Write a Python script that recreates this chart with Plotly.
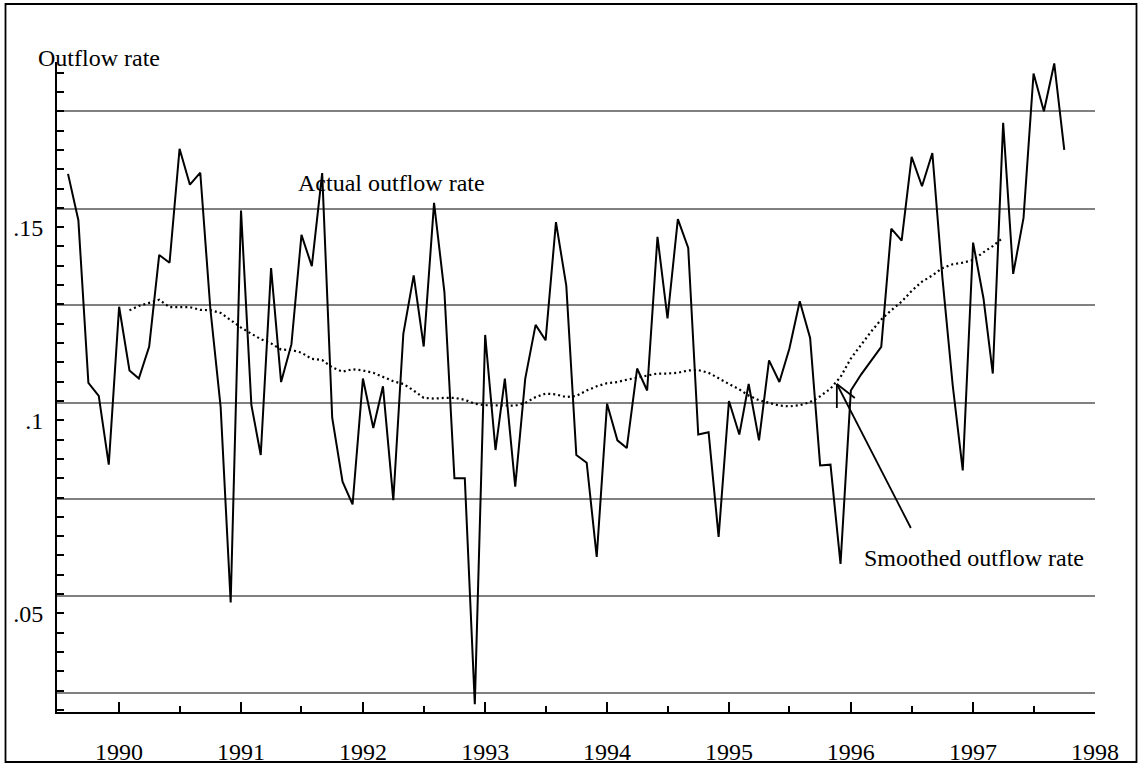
import pandas as pd
import plotly.graph_objects as go

# ---- data ----
start_month = "1989-08-01"
actual = [
    0.1638, 0.1518, 0.1097, 0.1063, 0.0885, 0.1294, 0.1129, 0.1108, 0.1191, 0.1428,
    0.1408, 0.1703, 0.1610, 0.1641, 0.1290, 0.1034, 0.0528, 0.1543, 0.1040, 0.0910,
    0.1394, 0.1099, 0.1197, 0.1480, 0.1399, 0.1640, 0.1007, 0.0841, 0.0782, 0.1108,
    0.0980, 0.1088, 0.0793, 0.1224, 0.1375, 0.1191, 0.1563, 0.1332, 0.0850, 0.0850,
    0.0265, 0.1221, 0.0923, 0.1108, 0.0828, 0.1108, 0.1247, 0.1207, 0.1513, 0.1348,
    0.0910, 0.0890, 0.0646, 0.1043, 0.0948, 0.0928, 0.1134, 0.1077, 0.1475, 0.1264,
    0.1521, 0.1446, 0.0963, 0.0969, 0.0698, 0.1050, 0.0963, 0.1094, 0.0948, 0.1155,
    0.1099, 0.1186, 0.1308, 0.1213, 0.0883, 0.0885, 0.0628, 0.1077, 0.1119, 0.1153,
    0.1190, 0.1496, 0.1465, 0.1682, 0.1606, 0.1692, 0.1370, 0.1090, 0.0870, 0.1460,
    0.1316, 0.1121, 0.1770, 0.1379, 0.1524, 0.1898, 0.1800, 0.1924, 0.1700,
]
smoothed_offset = 6
smoothed = [
    0.1285, 0.1296, 0.1304, 0.1312, 0.1293, 0.1293, 0.1293, 0.1286, 0.1285, 0.1278,
    0.1259, 0.1240, 0.1224, 0.1210, 0.1199, 0.1183, 0.1182, 0.1175, 0.1159, 0.1156,
    0.1137, 0.1126, 0.1132, 0.1129, 0.1123, 0.1112, 0.1101, 0.1094, 0.1077, 0.1058,
    0.1056, 0.1058, 0.1058, 0.1053, 0.1043, 0.1039, 0.1038, 0.1038, 0.1038, 0.1045,
    0.1060, 0.1069, 0.1067, 0.1060, 0.1063, 0.1077, 0.1088, 0.1096, 0.1099, 0.1105,
    0.1110, 0.1116, 0.1121, 0.1121, 0.1123, 0.1129, 0.1130, 0.1123, 0.1108, 0.1094,
    0.1080, 0.1064, 0.1052, 0.1045, 0.1038, 0.1036, 0.1039, 0.1047, 0.1062, 0.1082,
    0.1112, 0.1160, 0.1196, 0.1229, 0.1261, 0.1285, 0.1307, 0.1335, 0.1359, 0.1375,
    0.1394, 0.1404, 0.1408, 0.1415, 0.1435, 0.1451, 0.1473,
]
grid_values = [0.02945, 0.05455, 0.07964, 0.10455, 0.12983, 0.15474, 0.18008]
ytick_vals = [0.05, 0.10, 0.15]
ytick_text = [".05", ".1", ".15"]
y_range = [0.02446, 0.19277]
x_range = ["1989-06-29", "1998-01-01"]

months = pd.date_range(start_month, periods=len(actual), freq="MS")
sm_months = months[smoothed_offset:smoothed_offset + len(smoothed)]

FONT = "Liberation Serif, Times New Roman, serif"
FS = 24

fig = go.Figure()
fig.add_trace(go.Scatter(x=months, y=actual, mode="lines",
                         line=dict(color="black", width=2), yaxis="y"))
fig.add_trace(go.Scatter(x=sm_months, y=smoothed, mode="lines",
                         line=dict(color="black", width=2.2, dash="2px,3px"), yaxis="y"))

W, H = 1138, 765
L, R, T, B = 57, 43, 62, 53

fig.update_layout(
    width=W, height=H, autosize=False,
    margin=dict(l=L, r=R, t=T, b=B, pad=0, autoexpand=False),
    paper_bgcolor="white", plot_bgcolor="white",
    showlegend=False,
    font=dict(family=FONT, size=FS, color="black"),
    xaxis=dict(
        type="date", range=x_range, automargin=False,
        showgrid=False, zeroline=False,
        showline=True, linecolor="black", linewidth=2,
        tick0="1990-01-01", dtick="M12", tickformat="%Y",
        ticks="inside", ticklen=10, tickwidth=2, tickcolor="black",
        minor=dict(dtick="M6", tick0="1990-01-01", ticks="inside", ticklen=6,
                   tickwidth=2, tickcolor="black", showgrid=False),
        ticklabelstandoff=17,
        tickfont=dict(family=FONT, size=FS, color="black"),
    ),
    yaxis=dict(
        range=y_range, showgrid=False, zeroline=False, automargin=False,
        showline=True, linecolor="black", linewidth=2,
        tickvals=ytick_vals, ticktext=ytick_text,
        ticks="inside", ticklen=7, tickwidth=2, tickcolor="black",
        minor=dict(dtick=0.005, tick0=0, ticks="inside", ticklen=7,
                   tickwidth=2, tickcolor="black", showgrid=False),
        ticklabelstandoff=7,
        tickfont=dict(family=FONT, size=FS, color="black"),
    ),
    yaxis2=dict(
        range=y_range, overlaying="y", side="left", automargin=False,
        tickvals=grid_values, showticklabels=False, ticks="",
        showgrid=True, gridcolor="#808080", gridwidth=1.6,
        showline=False, zeroline=False, layer="below traces",
    ),
)
# invisible trace that activates the y2 grid
fig.add_trace(go.Scatter(x=[months[0]], y=[grid_values[0]], yaxis="y2",
                         mode="markers", marker=dict(opacity=0), hoverinfo="skip"))

pw, ph = W - L - R, H - T - B

def ann(text, px, py, anchor="left"):
    fig.add_annotation(text=text, xref="paper", yref="paper",
                       x=(px - L) / pw, y=(H - B - py) / ph,
                       xanchor=anchor, yanchor="middle", showarrow=False,
                       font=dict(family=FONT, size=FS, color="black"))

ann("Outflow rate", 36, 58)
ann("Actual outflow rate", 296, 183)
ann("Smoothed outflow rate", 862, 558)

# arrow pointing at the smoothed line (open arrowhead)
tip_x, tip_y = "1995-11-20", 0.1094
for (x1, y1) in [(74, -144), (0, -24), (18, -14)]:
    fig.add_shape(type="line", xref="x", yref="y",
                  xsizemode="pixel", ysizemode="pixel",
                  xanchor=tip_x, yanchor=tip_y,
                  x0=0, y0=0, x1=x1, y1=y1,
                  line=dict(color="black", width=1.8))

# outer frame
fig.add_shape(type="rect", xref="paper", yref="paper",
              x0=(5.5 - L) / pw, x1=(1136.5 - L) / pw,
              y0=(H - B - 762) / ph, y1=(H - B - 4) / ph,
              line=dict(color="black", width=1.8), fillcolor="rgba(0,0,0,0)")

fig.write_html("out.html",
               config={"displayModeBar": False},
               post_script="document.body.style.margin='0';document.body.style.overflow='hidden';")
